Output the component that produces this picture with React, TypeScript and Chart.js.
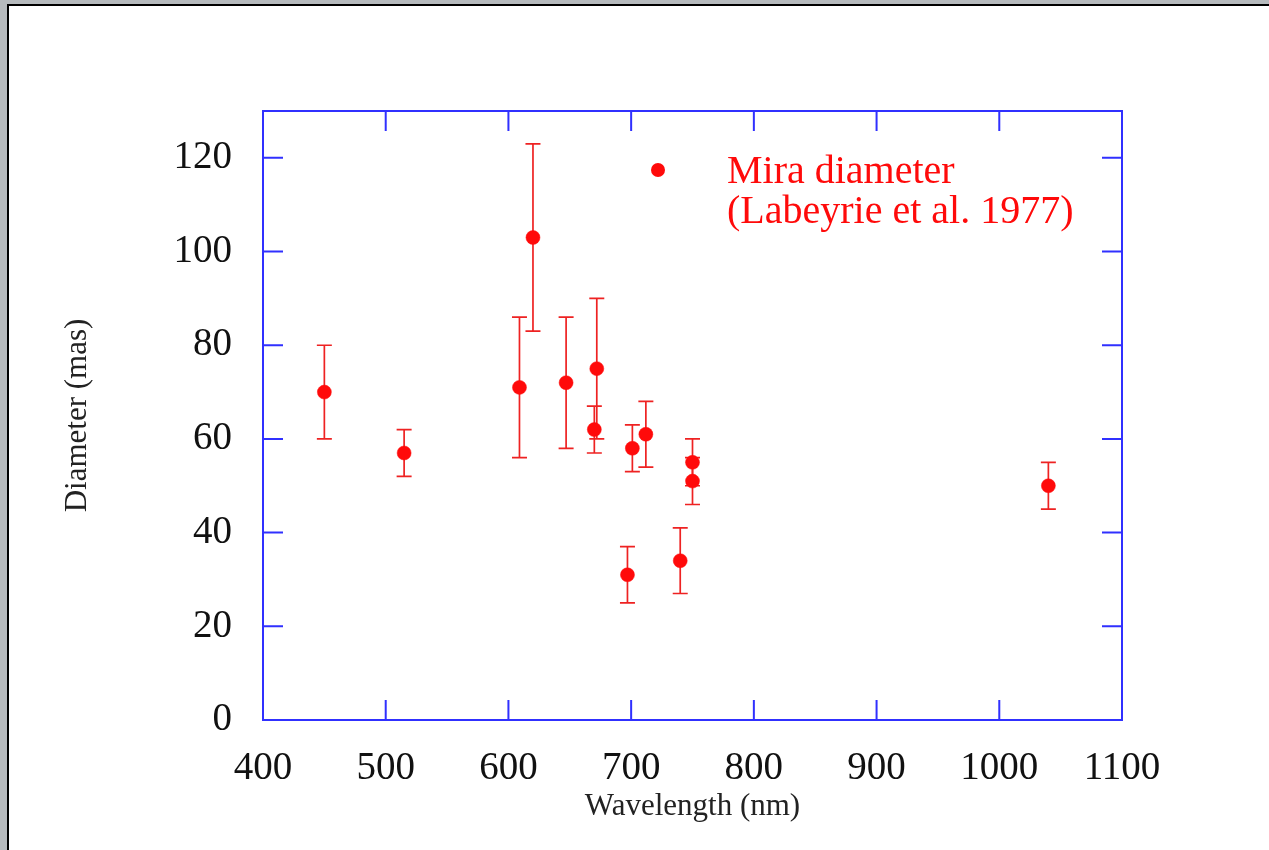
import React, { useEffect, useRef } from 'react';
import { Chart, registerables } from 'chart.js';

Chart.register(...registerables);

// ---- data ----
const wavelengths = [450, 515, 609, 620, 647, 670, 672, 697, 701, 712, 740, 750, 750, 1040];
const diameters = [70, 57, 71, 103, 72, 62, 75, 31, 58, 61, 34, 55, 51, 50];
const errLow = [60, 52, 56, 83, 58, 57, 60, 25, 53, 54, 27, 50, 46, 45];
const errHigh = [80, 62, 86, 123, 86, 67, 90, 37, 63, 68, 41, 60, 56, 55];
const xTickValues = [400, 500, 600, 700, 800, 900, 1000, 1100];
const yTickValues = [0, 20, 40, 60, 80, 100, 120];
const legendLines = ['Mira diameter', '(Labeyrie et al. 1977)'];

const RED = '#ff0a0a';
const BAR_RED = '#ee2222';
const BLUE = '#3030ff';
const SERIF = '"Liberation Serif", "DejaVu Serif", serif';

const errorBarPlugin = {
  id: 'errorBars',
  beforeDatasetsDraw(chart: any) {
    const { ctx, scales } = chart;
    const xs = scales.x;
    const ys = scales.y;
    ctx.save();
    ctx.strokeStyle = BAR_RED;
    ctx.lineWidth = 1.7;
    const cap = 7.5;
    for (let i = 0; i < wavelengths.length; i++) {
      const x = xs.getPixelForValue(wavelengths[i]);
      const yl = ys.getPixelForValue(errLow[i]);
      const yh = ys.getPixelForValue(errHigh[i]);
      ctx.beginPath();
      ctx.moveTo(x, yl);
      ctx.lineTo(x, yh);
      ctx.moveTo(x - cap, yl);
      ctx.lineTo(x + cap, yl);
      ctx.moveTo(x - cap, yh);
      ctx.lineTo(x + cap, yh);
      ctx.stroke();
    }
    ctx.restore();
  },
};

const framePlugin = {
  id: 'frame',
  afterDraw(chart: any) {
    const { ctx, chartArea, scales } = chart;
    const { left, right, top, bottom } = chartArea;
    const xs = scales.x;
    const ys = scales.y;
    const tl = 20;
    ctx.save();
    ctx.strokeStyle = BLUE;
    ctx.lineWidth = 2;
    ctx.beginPath();
    ctx.rect(left, top, right - left, bottom - top);
    for (const v of xTickValues) {
      const x = xs.getPixelForValue(v);
      ctx.moveTo(x, bottom);
      ctx.lineTo(x, bottom - tl);
      ctx.moveTo(x, top);
      ctx.lineTo(x, top + tl);
    }
    for (const v of yTickValues) {
      const y = ys.getPixelForValue(v);
      ctx.moveTo(left, y);
      ctx.lineTo(left + tl, y);
      ctx.moveTo(right, y);
      ctx.lineTo(right - tl, y);
    }
    ctx.stroke();

    // legend
    const lx = left + 395;
    const ly = top + 59;
    ctx.fillStyle = RED;
    ctx.beginPath();
    ctx.arc(lx, ly, 7, 0, Math.PI * 2);
    ctx.fill();
    ctx.font = '40px ' + SERIF;
    ctx.textAlign = 'left';
    ctx.textBaseline = 'alphabetic';
    ctx.fillText(legendLines[0], left + 464, top + 72);
    ctx.fillText(legendLines[1], left + 464, top + 112);
    ctx.restore();
  },
};

export default function App() {
  const ref = useRef<HTMLCanvasElement | null>(null);

  useEffect(() => {
    if (!ref.current) return;
    const chart = new Chart(ref.current, {
      type: 'scatter',
      data: {
        datasets: [
          {
            label: legendLines.join(' '),
            data: wavelengths.map((w, i) => ({ x: w, y: diameters[i] })),
            backgroundColor: RED,
            borderColor: RED,
            borderWidth: 0.5,
            pointRadius: 7,
            pointHoverRadius: 7,
          },
        ],
      },
      options: {
        animation: false,
        responsive: false,
        maintainAspectRatio: false,
        events: [],
        layout: { padding: { top: 111, right: 147, left: 0, bottom: 0 } },
        plugins: {
          legend: { display: false },
          tooltip: { enabled: false },
          title: { display: false },
        },
        scales: {
          x: {
            type: 'linear',
            min: 400,
            max: 1100,
            afterFit: (s: any) => {
              s.height = 130;
            },
            grid: { display: false, drawTicks: false },
            border: { display: false },
            ticks: {
              stepSize: 100,
              includeBounds: false,
              padding: 25,
              color: '#111',
              font: { family: SERIF, size: 39 },
              maxRotation: 0,
              autoSkip: false,
              callback: (v: any) => String(v),
            },
            title: {
              display: true,
              text: 'Wavelength (nm)',
              color: '#222',
              font: { family: SERIF, size: 31 },
              padding: { top: 0, bottom: 25 },
            },
          },
          y: {
            type: 'linear',
            min: 0,
            max: 130,
            afterFit: (s: any) => {
              s.width = 263;
            },
            grid: { display: false, drawTicks: false },
            border: { display: false },
            ticks: {
              stepSize: 20,
              includeBounds: false,
              padding: 31,
              color: '#111',
              font: { family: SERIF, size: 39 },
              autoSkip: false,
              callback: (v: any) => String(v),
            },
            title: {
              display: true,
              text: 'Diameter (mas)',
              color: '#222',
              font: { family: SERIF, size: 31 },
              padding: { top: 59, bottom: 0 },
            },
          },
        },
      },
      plugins: [errorBarPlugin, framePlugin],
    });
    return () => chart.destroy();
  }, []);

  return (
    <div
      style={{
        position: 'absolute',
        left: 0,
        top: 0,
        width: 1269,
        height: 850,
        background: '#b6babd',
        overflow: 'hidden',
      }}
    >
      <div
        style={{
          position: 'absolute',
          left: 7,
          top: 4,
          right: 0,
          bottom: 0,
          background: '#ffffff',
          borderTop: '2px solid #000',
          borderLeft: '2px solid #000',
        }}
      />
      <canvas
        ref={ref}
        width={1269}
        height={850}
        style={{ position: 'absolute', left: 0, top: 0, width: 1269, height: 850 }}
      />
    </div>
  );
}
